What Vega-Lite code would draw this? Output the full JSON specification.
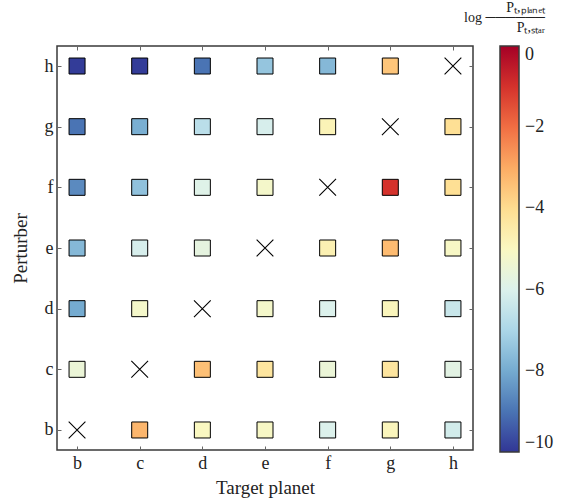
{
  "$schema": "https://vega.github.io/schema/vega-lite/v6.json",
  "width": 416,
  "height": 404,
  "autosize": {"type": "none"},
  "padding": {"left": 57, "top": 46, "right": 95, "bottom": 52},
  "background": "white",
  "title": {
    "text": ["P\u209c,\u209a\u2097\u2090\u2099\u2091\u209c", "log \u2500\u2500\u2500\u2500\u2500\u2500", "P\u209c,\u209b\u209c\u2090\u1d63\u2002"],
    "anchor": "end",
    "align": "right",
    "frame": "group",
    "dx": 72,
    "offset": 11,
    "fontSize": 14,
    "lineHeight": 10,
    "font": "Liberation Serif",
    "fontWeight": "normal",
    "color": "#222"
  },
  "data": {"values": [
    {"target": "b", "perturber": "h", "v": -9.9},
    {"target": "c", "perturber": "h", "v": -9.9},
    {"target": "d", "perturber": "h", "v": -9.0},
    {"target": "e", "perturber": "h", "v": -7.4},
    {"target": "f", "perturber": "h", "v": -7.7},
    {"target": "g", "perturber": "h", "v": -3.5},
    {"target": "h", "perturber": "h", "v": null},
    {"target": "b", "perturber": "g", "v": -9.0},
    {"target": "c", "perturber": "g", "v": -7.9},
    {"target": "d", "perturber": "g", "v": -6.7},
    {"target": "e", "perturber": "g", "v": -6.1},
    {"target": "f", "perturber": "g", "v": -4.8},
    {"target": "g", "perturber": "g", "v": null},
    {"target": "h", "perturber": "g", "v": -4.1},
    {"target": "b", "perturber": "f", "v": -8.6},
    {"target": "c", "perturber": "f", "v": -7.5},
    {"target": "d", "perturber": "f", "v": -5.9},
    {"target": "e", "perturber": "f", "v": -5.2},
    {"target": "f", "perturber": "f", "v": null},
    {"target": "g", "perturber": "f", "v": -1.0},
    {"target": "h", "perturber": "f", "v": -4.1},
    {"target": "b", "perturber": "e", "v": -7.7},
    {"target": "c", "perturber": "e", "v": -6.1},
    {"target": "d", "perturber": "e", "v": -5.7},
    {"target": "e", "perturber": "e", "v": null},
    {"target": "f", "perturber": "e", "v": -4.7},
    {"target": "g", "perturber": "e", "v": -3.3},
    {"target": "h", "perturber": "e", "v": -5.1},
    {"target": "b", "perturber": "d", "v": -8.0},
    {"target": "c", "perturber": "d", "v": -5.2},
    {"target": "d", "perturber": "d", "v": null},
    {"target": "e", "perturber": "d", "v": -5.2},
    {"target": "f", "perturber": "d", "v": -6.0},
    {"target": "g", "perturber": "d", "v": -4.9},
    {"target": "h", "perturber": "d", "v": -6.4},
    {"target": "b", "perturber": "c", "v": -5.5},
    {"target": "c", "perturber": "c", "v": null},
    {"target": "d", "perturber": "c", "v": -3.4},
    {"target": "e", "perturber": "c", "v": -4.3},
    {"target": "f", "perturber": "c", "v": -5.5},
    {"target": "g", "perturber": "c", "v": -4.3},
    {"target": "h", "perturber": "c", "v": -5.8},
    {"target": "b", "perturber": "b", "v": null},
    {"target": "c", "perturber": "b", "v": -3.2},
    {"target": "d", "perturber": "b", "v": -5.0},
    {"target": "e", "perturber": "b", "v": -5.1},
    {"target": "f", "perturber": "b", "v": -6.0},
    {"target": "g", "perturber": "b", "v": -4.9},
    {"target": "h", "perturber": "b", "v": -6.2}
  ]},
  "config": {
    "view": {"stroke": "#3a3a3a", "strokeWidth": 1.5},
    "font": "Liberation Serif",
    "axis": {
      "domain": false,
      "grid": false,
      "tickColor": "#666",
      "tickSize": -4,
      "tickWidth": 1,
      "labelFont": "Liberation Serif",
      "labelFontSize": 18,
      "labelColor": "#222",
      "labelPadding": 8,
      "titleFont": "Liberation Serif",
      "titleFontSize": 19,
      "titleFontWeight": "normal",
      "titleColor": "#222"
    },
    "legend": {
      "labelFont": "Liberation Serif",
      "labelFontSize": 18,
      "labelColor": "#222",
      "padding": 0
    }
  },
  "resolve": {
    "scale": {"x": "independent", "y": "independent"},
    "axis": {"x": "independent", "y": "independent"}
  },
  "layer": [
    {
      "transform": [{"filter": "isValid(datum.v)"}],
      "mark": {"type": "point", "shape": "square", "filled": true, "size": 256, "stroke": "#000", "strokeWidth": 1, "opacity": 1},
      "encoding": {
        "x": {"field": "target", "type": "ordinal",
              "scale": {"type": "point", "domain": ["b","c","d","e","f","g","h"], "padding": 0.32},
              "axis": {"orient": "bottom", "title": "Target planet", "labelAngle": 0, "titlePadding": 6}},
        "y": {"field": "perturber", "type": "ordinal",
              "scale": {"type": "point", "domain": ["h","g","f","e","d","c","b"], "padding": 0.33},
              "axis": {"orient": "left", "title": "Perturber", "titlePadding": 14}},
        "fill": {"field": "v", "type": "quantitative",
                  "title": "log P_t,planet / P_t,star",
                  "scale": {"scheme": "redyellowblue", "reverse": true, "domain": [-10, 0]},
                  "legend": {
                    "orient": "none", "legendX": 443, "legendY": 0,
                    "direction": "vertical",
                    "title": null,
                    "gradientLength": 406, "gradientThickness": 19,
                    "gradientStrokeColor": "#3a3a3a", "gradientStrokeWidth": 1.5,
                    "values": [0, -2, -4, -6, -8, -10],
                    "labelOverlap": false,
                    "labelOffset": 6,
                    "labelBaseline": "middle",
                    "encode": {"labels": {"enter": {"dy": {"signal": "datum.value === 0 ? -9 : datum.value === -10 ? 10 : 0"}}, "update": {"dy": {"signal": "datum.value === 0 ? -9 : datum.value === -10 ? 10 : 0"}}}}
                  }}
      }
    },
    {
      "transform": [{"filter": "!isValid(datum.v)"}],
      "mark": {"type": "point", "shape": "M-1,-1L1,1M-1,1L1,-1", "filled": false, "size": 280, "stroke": "#000", "strokeWidth": 1.1, "opacity": 1},
      "encoding": {
        "x": {"field": "target", "type": "ordinal",
              "scale": {"type": "point", "domain": ["b","c","d","e","f","g","h"], "padding": 0.32},
              "axis": {"orient": "top", "title": null, "labels": false}},
        "y": {"field": "perturber", "type": "ordinal",
              "scale": {"type": "point", "domain": ["h","g","f","e","d","c","b"], "padding": 0.33},
              "axis": {"orient": "right", "title": null, "labels": false}}
      }
    }
  ]
}
